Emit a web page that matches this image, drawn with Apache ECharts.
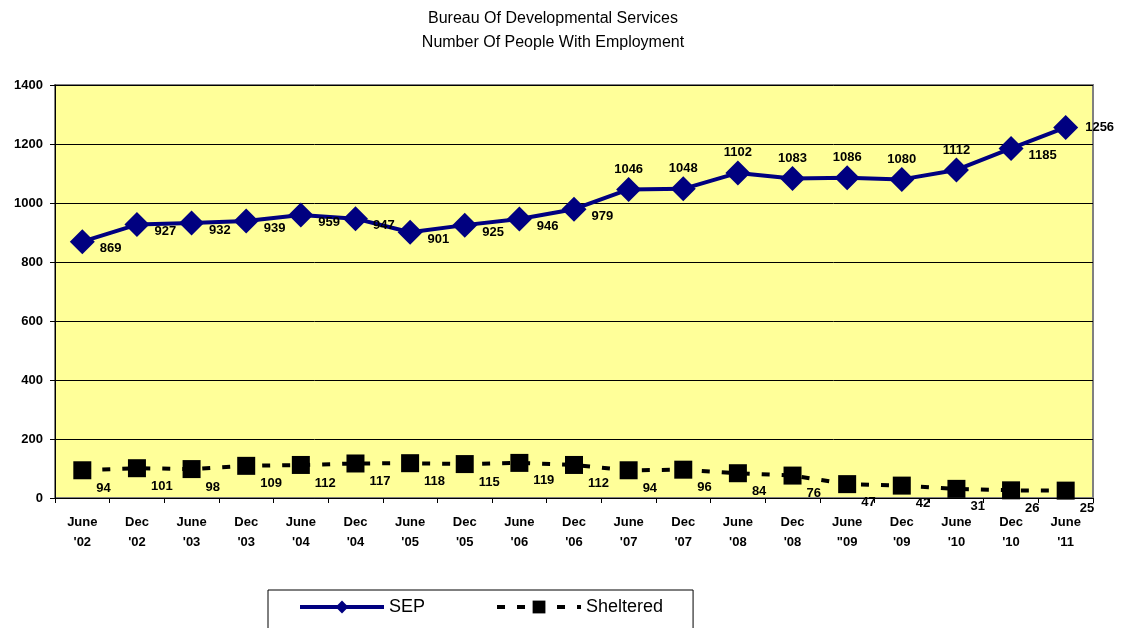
<!DOCTYPE html>
<html>
<head>
<meta charset="utf-8">
<script src="https://cdn.jsdelivr.net/npm/echarts@6/dist/echarts.min.js"></script>
<style>
  html, body { margin: 0; padding: 0; background: #fff; }
  #main { width: 1128px; height: 628px; }
</style>
</head>
<body>
<div id="main"></div>
<script>
// chart data
const categories = [
  "June\n'02", "Dec\n'02", "June\n'03", "Dec\n'03", "June\n'04", "Dec\n'04",
  "June\n'05", "Dec\n'05", "June\n'06", "Dec\n'06", "June\n'07", "Dec\n'07",
  "June\n'08", "Dec\n'08", "June\n\"09", "Dec\n'09", "June\n'10", "Dec\n'10",
  "June\n'11"
];
const sepValues = [869, 927, 932, 939, 959, 947, 901, 925, 946, 979, 1046, 1048, 1102, 1083, 1086, 1080, 1112, 1185, 1256];
const shelteredValues = [94, 101, 98, 109, 112, 117, 118, 115, 119, 112, 94, 96, 84, 76, 47, 42, 31, 26, 25];

const myChart = echarts.init(document.getElementById('main'));

// where the SEP label sits for each point (picked by index range)
const sepLabel = (i) => {
  if (i >= 10 && i <= 16) return { position: 'top', offset: [0, 4] };
  if (i === 18) return { position: 'right', offset: [2, 0] };
  return { position: 'right', offset: [0, 7] };
};

const labelFont = {
  show: true,
  color: '#000',
  fontFamily: 'Arial, "Liberation Sans", sans-serif',
  fontWeight: 'bold',
  fontSize: 13,
};

const sepData = sepValues.map((v, i) => ({
  value: v,
  label: Object.assign({}, labelFont, sepLabel(i)),
}));

const shelteredData = shelteredValues.map((v) => ({
  value: v,
  label: Object.assign({}, labelFont, { position: 'right', offset: [0, 18] }),
}));

const option = {
  animation: false,
  textStyle: { fontFamily: 'Arial, "Liberation Sans", sans-serif' },
  title: {
    text: 'Bureau Of Developmental Services\nNumber Of People With Employment',
    left: 548,
    textAlign: 'center',
    top: 2,
    textStyle: {
      fontSize: 16,
      fontWeight: 'normal',
      color: '#000',
      lineHeight: 24,
    },
  },
  grid: {
    left: 55,
    right: 35,
    top: 85,
    bottom: 130,
    show: true,
    backgroundColor: '#FFFF99',
    borderColor: '#808080',
    borderWidth: 2,
  },
  legend: {
    left: 268,
    top: 590,
    padding: [8, 30, 20, 30],
    itemGap: 70,
    itemWidth: 84,
    itemHeight: 16,
    borderColor: '#000',
    borderWidth: 1,
    lineStyle: { width: 4 },
    textStyle: { fontSize: 18, color: '#000' },
    data: ['SEP', 'Sheltered'],
  },
  xAxis: {
    type: 'category',
    data: categories,
    boundaryGap: true,
    axisLine: { lineStyle: { color: '#000', width: 1 } },
    axisTick: { show: true, length: 5, lineStyle: { color: '#000' } },
    axisLabel: {
      color: '#000',
      fontWeight: 'bold',
      fontSize: 13,
      lineHeight: 20,
      margin: 14,
      interval: 0,
    },
  },
  yAxis: {
    type: 'value',
    min: 0,
    max: 1400,
    interval: 200,
    axisLine: { show: true, lineStyle: { color: '#000' } },
    axisTick: { show: true, length: 5, lineStyle: { color: '#000' } },
    axisLabel: {
      color: '#000',
      fontWeight: 'bold',
      fontSize: 13,
      margin: 12,
      formatter: (v) => String(v),
    },
    splitLine: { lineStyle: { color: '#000', width: 1 } },
  },
  series: [
    {
      name: 'SEP',
      type: 'line',
      data: sepData,
      color: '#000080',
      symbol: 'diamond',
      symbolSize: 25,
      lineStyle: { width: 4, color: '#000080' },
      itemStyle: { color: '#000080' },
      z: 3,
    },
    {
      name: 'Sheltered',
      type: 'line',
      data: shelteredData,
      color: '#000',
      symbol: 'rect',
      symbolSize: 18,
      lineStyle: { width: 4, color: '#000', type: [8, 12] },
      itemStyle: { color: '#000' },
      z: 2,
    },
  ],
};

myChart.setOption(option);
</script>
</body>
</html>
